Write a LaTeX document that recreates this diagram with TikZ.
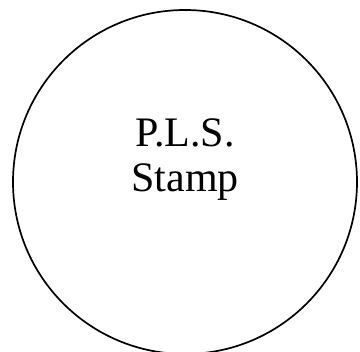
\documentclass[tikz,border=0pt]{standalone}
\usepackage{fontspec}
\setmainfont{Liberation Serif}
\begin{document}
\begin{tikzpicture}[x=1pt,y=1pt,
  stampcircle/.style={circle,draw=black,line width=1.7pt,minimum size=344pt,inner sep=0pt},
  stamptext/.style={font=\fontsize{42}{46}\selectfont,anchor=base,inner sep=0pt}]
\useasboundingbox (0,0) rectangle (360,352);
\node[stampcircle] (stamp) at (185,170) {};
\node[stamptext] (line1) at (185,205) {P.L.S.};
\node[stamptext] (line2) at (185,160) {Stamp};
\end{tikzpicture}
\end{document}
